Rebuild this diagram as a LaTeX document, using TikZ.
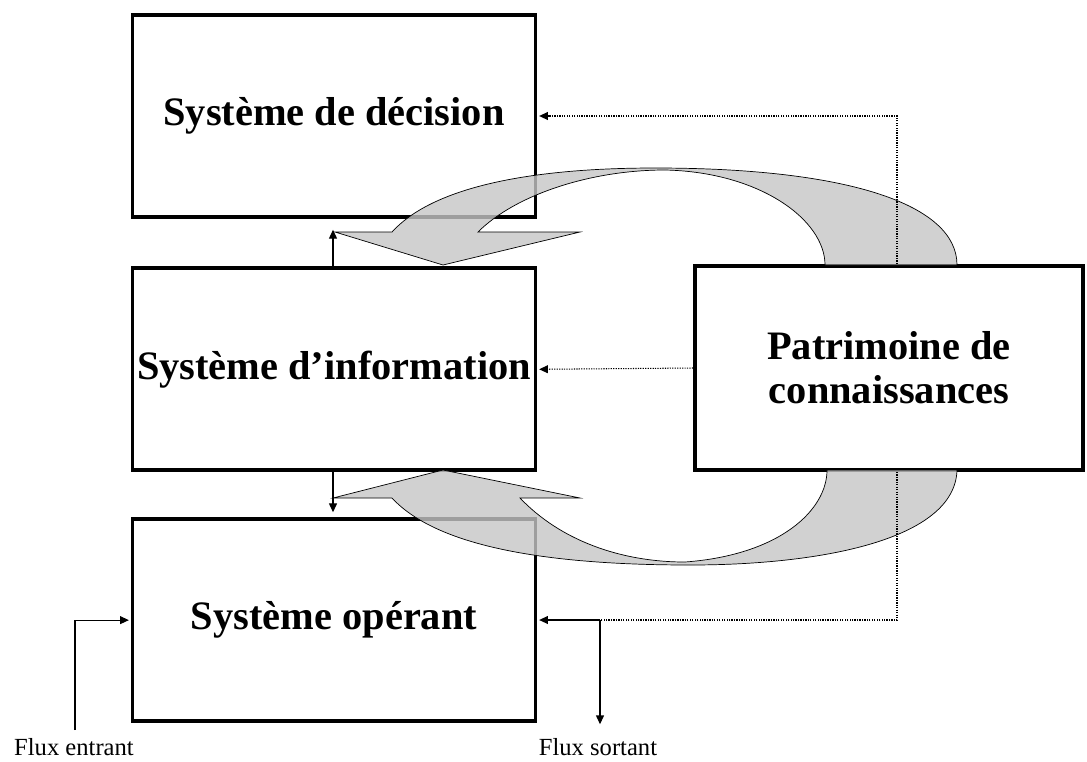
\documentclass[tikz,border=0pt]{standalone}
\usepackage{fontspec}
\setmainfont{Liberation Serif}
\usetikzlibrary{arrows.meta,positioning,calc}

\begin{document}
\begin{tikzpicture}[x=0.02cm, y=-0.02cm,
    box/.style={draw, line width=2.2pt, fill=white, minimum width=8.06cm, minimum height=4.04cm, inner sep=0pt, align=center, font=\fontsize{23}{25}\selectfont\bfseries},
    band/.style={draw, thin, fill=gray!45, fill opacity=0.8},
    flow/.style={->, >={Triangle[length=5pt,width=4.5pt]}, line width=0.6pt, shorten >=1pt},
    kdot/.style={dash pattern=on 0.7pt off 0.7pt, line width=0.6pt},
    lbl/.style={font=\fontsize{14}{16}\selectfont, inner sep=1pt}]
    \useasboundingbox (0,0) rectangle (1087,761);

    % Boxes
    \node[box] (dec) at (334,116) {Système de décision};
    \node[box] (inf) [below=0.95cm of dec] {Système d’information};
    \node[box] (op) [below=0.9cm of inf] {Système opérant};
    \node[box, minimum width=7.76cm, minimum height=4.08cm] (pat) at (889,368) {Patrimoine de\\connaissances};

    % Flux labels
    \node[lbl] (fin) at (74,747) {Flux entrant};
    \node[lbl] (fout) at (598,747) {Flux sortant};

    % Curved arrows
    \draw[band] (957,265) .. controls (957,205) and (850,168) .. (655,168)
        .. controls (520,168) and (430,190) .. (392,232)
        -- (335,232) -- (443,265) -- (580,232) -- (478,232)
        .. controls (515,195) and (590,170) .. (665,170)
        .. controls (760,172) and (825,220) .. (825,265) -- cycle;
    \draw[band] (957,470) .. controls (955,540) and (820,565) .. (690,565)
        .. controls (560,565) and (440,550) .. (392,498)
        -- (333,498) -- (443,470) -- (580,498) -- (520,498)
        .. controls (560,540) and (620,562) .. (685,562)
        .. controls (780,555) and (827,510) .. (827,470) -- cycle;

    % Dotted links
    \coordinate (kx) at (897,0);
    \coordinate (jn) at (600,620);
    \draw[flow, kdot] (pat.north -| kx) |- (dec.east);
    \draw[flow, kdot] (pat.west) -- (inf.east);
    \draw[kdot] (pat.south -| kx) |- (jn);
    \draw[flow] (jn) -- (jn -| op.east);

    % Flows
    \coordinate (outb) at (600,726);
    \coordinate (inb) at (75,730);
    \draw[flow] (jn) -- (outb);
    \draw[flow] (inb) |- (op.west);

    \coordinate (up) at (333,228);
    \coordinate (dn) at (333,514);
    \draw[flow] (inf.north -| up) -- (up);
    \draw[flow] (inf.south -| dn) -- (dn);

\end{tikzpicture}
\end{document}
